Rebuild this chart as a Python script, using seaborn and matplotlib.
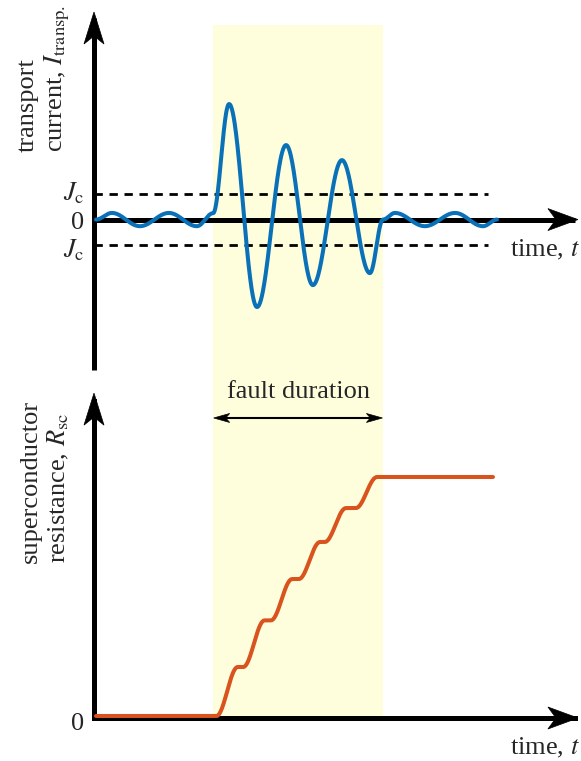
import numpy as np
import pandas as pd
import matplotlib
matplotlib.use("Agg")
import matplotlib.pyplot as plt
import matplotlib.transforms as mtransforms
from matplotlib.patches import Polygon
import seaborn as sns

# ---------------------------------------------------------------- data
# transport current: turning points of the waveform (time in ms, current in units of Jc)
current_t = [0.0, 5.6, 15.4, 25.6, 35.4, 41.1, 46.7, 56.5, 66.7, 76.1,
             86.3, 96.1, 100.7, 104.9, 115.4, 126.0, 135.8, 140.7]
current_i = [0.0, 0.26, -0.26, 0.26, -0.26, 0.25, 4.53, -3.43, 2.92, -2.57,
             2.33, -2.10, 0.0, 0.26, -0.26, 0.26, -0.26, 0.0]

# superconductor resistance: quench steps (centre times) and the levels between them
step_times = [46.0, 55.4, 65.1, 74.9, 84.0, 94.9]
resist_levels = [0.0, 0.205, 0.40, 0.573, 0.728, 0.870, 1.0]
resist_start, resist_end = 0.0, 139.3

fault_start, fault_end = 41.0, 100.8
jc_level = 1.0

tick_labels_top = ["$J_{\\mathrm{c}}$", "0", "$J_{\\mathrm{c}}$"]

# ---------------------------------------------------------------- style
sns.set_theme(style="white")
plt.rcParams["font.family"] = ["Liberation Serif", "DejaVu Serif"]
plt.rcParams["mathtext.fontset"] = "stix"

BLUE = "#0A71B9"
ORANGE = "#D9531E"
SHADE = "#FEFEDC"
FS = 19

W, H = 581, 761
fig = plt.figure(figsize=(W / 100, H / 100), dpi=100)
fig.patch.set_facecolor("white")


def add_axes_px(left, top, right, bottom):
    return fig.add_axes([left / W, 1 - bottom / H, (right - left) / W, (bottom - top) / H])


ax_top = add_axes_px(94, 25, 581, 382)
ax_bot = add_axes_px(94, 382, 581, 718)

XLIM = (-0.70, 170.18)
for ax in (ax_top, ax_bot):
    ax.set_xlim(*XLIM)
    ax.set_facecolor("none")
    ax.axis("off")
ax_top.set_ylim(-6.37, 7.63)
ax_bot.set_ylim(-0.0084, 1.3975)


def smooth_path(tk, vk, n=60):
    """Join successive knots with half-cosine segments (zero slope at each knot)."""
    ts, vs = [], []
    for i in range(len(tk) - 1):
        u = np.linspace(0, 1, n, endpoint=False)
        s = (1 - np.cos(np.pi * u)) / 2
        ts.append(tk[i] + (tk[i + 1] - tk[i]) * u)
        vs.append(vk[i] + (vk[i + 1] - vk[i]) * s)
    ts.append([tk[-1]])
    vs.append([vk[-1]])
    return np.concatenate(ts), np.concatenate(vs)


def stealth_head(ax, x, y, direction, length, width, notch, zorder=6):
    """Notched arrow head (sizes in pixels) with its tip at data point (x, y)."""
    L, Wd, N = length / 100, width / 100, notch / 100
    pts = np.array([[0, 0], [-L, Wd / 2], [-L + N, 0], [-L, -Wd / 2]])
    ang = {"right": 0, "up": 90, "left": 180}[direction]
    c, s = np.cos(np.radians(ang)), np.sin(np.radians(ang))
    pts = pts @ np.array([[c, s], [-s, c]])
    trans = fig.dpi_scale_trans + mtransforms.ScaledTranslation(x, y, ax.transData)
    ax.add_patch(Polygon(pts, closed=True, transform=trans, facecolor="black",
                         edgecolor="black", lw=0.5, clip_on=False, zorder=zorder))


# ---------------------------------------------------------------- fault shading
for ax in (ax_top, ax_bot):
    ax.axvspan(fault_start, fault_end, color=SHADE, lw=0, zorder=0)

# ---------------------------------------------------------------- top panel
AX_LW = 3.6
x_axis = XLIM[0]
ax_top.plot([x_axis, x_axis], [-5.90, 7.9], color="black", lw=AX_LW,
            solid_capstyle="butt", clip_on=False, zorder=3)
stealth_head(ax_top, x_axis, 8.14, "up", 32, 20, 8)
ax_top.plot([x_axis, 168.0], [0, 0], color="black", lw=AX_LW,
            solid_capstyle="butt", clip_on=False, zorder=3)
stealth_head(ax_top, 169.1, 0, "right", 30, 22, 8)

for lvl in (jc_level, -jc_level):
    ax_top.plot([x_axis, 137.5], [lvl, lvl], color="black", lw=2.0,
                linestyle=(0, (3, 2.4)), zorder=2)

ct, ci = smooth_path(current_t, current_i)
df_cur = pd.DataFrame({"time": ct, "current": ci})
sns.lineplot(data=df_cur, x="time", y="current", ax=ax_top, color=BLUE,
             lw=2.9, estimator=None, sort=False, zorder=4)
ax_top.axis("off")

ax_top.text(-4.2, 0.76, tick_labels_top[0], ha="right", va="baseline", fontsize=FS)
ax_top.text(-4.2, -0.37, tick_labels_top[1], ha="right", va="baseline", fontsize=FS)
ax_top.text(-4.2, -1.47, tick_labels_top[2], ha="right", va="baseline", fontsize=FS)
ax_top.text(169.8, -1.43, "time, $t$", ha="right", va="baseline", fontsize=FS)

fig.text(44 / W, 1 - 152 / H, "transport\ncurrent, $I_{\\mathrm{transp.}}$",
         rotation=90, ha="center", va="bottom", multialignment="left", fontsize=FS)

# ---------------------------------------------------------------- bottom panel
r_axis = -0.0084
ax_bot.plot([x_axis, x_axis], [r_axis, 1.32], color="black", lw=AX_LW,
            solid_capstyle="projecting", clip_on=False, zorder=3)
stealth_head(ax_bot, x_axis, 1.351, "up", 32, 20, 8)
ax_bot.plot([x_axis, 168.0], [r_axis, r_axis], color="black", lw=AX_LW,
            solid_capstyle="projecting", clip_on=False, zorder=3)
stealth_head(ax_bot, 169.1, r_axis, "right", 30, 22, 8)

rise = 7.5
rk_t, rk_v = [resist_start], [resist_levels[0]]
for k, tc in enumerate(step_times):
    rk_t += [tc - rise / 2, tc + rise / 2]
    rk_v += [resist_levels[k], resist_levels[k + 1]]
rk_t.append(resist_end)
rk_v.append(resist_levels[-1])
rt, rv = smooth_path(rk_t, rk_v)
df_res = pd.DataFrame({"time": rt, "resistance": rv})
sns.lineplot(data=df_res, x="time", y="resistance", ax=ax_bot, color=ORANGE,
             lw=2.9, estimator=None, sort=False, zorder=4)
ax_bot.axis("off")

# fault duration marker
ax_bot.plot([fault_start + 3, fault_end - 3], [1.247, 1.247], color="black", lw=1.5, zorder=5)
stealth_head(ax_bot, fault_start + 0.3, 1.247, "left", 16, 9, 4)
stealth_head(ax_bot, fault_end - 0.3, 1.247, "right", 16, 9, 4)
ax_bot.text((fault_start + fault_end) / 2, 1.331, "fault duration",
            ha="center", va="baseline", fontsize=FS)

ax_bot.text(-4.2, -0.0586, "0", ha="right", va="baseline", fontsize=FS)
ax_bot.text(169.8, -0.163, "time, $t$", ha="right", va="baseline", fontsize=FS)

fig.text(45 / W, 1 - 563 / H, "superconductor\nresistance, $R_{\\mathrm{sc}}$",
         rotation=90, ha="center", va="bottom", multialignment="left", fontsize=FS)

fig.savefig("out.png", dpi=100, facecolor="white")
